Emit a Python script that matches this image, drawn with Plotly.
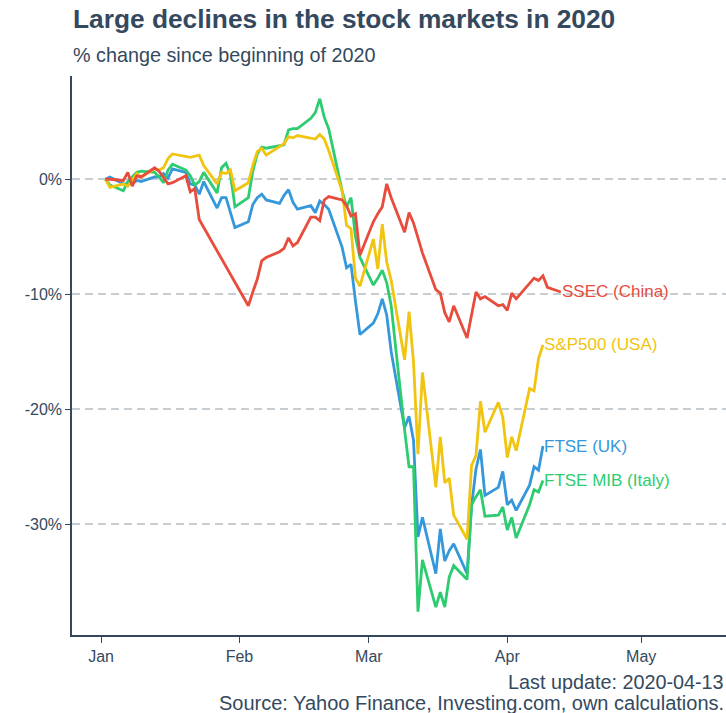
import plotly.graph_objects as go

# ---------------- data (% change since first trading day of 2020) ----------------
us_dates = ["2020-01-02","2020-01-03","2020-01-06","2020-01-07","2020-01-08","2020-01-09","2020-01-10",
            "2020-01-13","2020-01-14","2020-01-15","2020-01-16","2020-01-17","2020-01-21","2020-01-22",
            "2020-01-23","2020-01-24","2020-01-27","2020-01-28","2020-01-29","2020-01-30","2020-01-31",
            "2020-02-03","2020-02-04","2020-02-05","2020-02-06","2020-02-07","2020-02-10","2020-02-11",
            "2020-02-12","2020-02-13","2020-02-14","2020-02-18","2020-02-19","2020-02-20","2020-02-21",
            "2020-02-24","2020-02-25","2020-02-26","2020-02-27","2020-02-28",
            "2020-03-02","2020-03-03","2020-03-04","2020-03-05","2020-03-06","2020-03-09","2020-03-10",
            "2020-03-11","2020-03-12","2020-03-13","2020-03-16","2020-03-17","2020-03-18","2020-03-19",
            "2020-03-20","2020-03-23","2020-03-24","2020-03-25","2020-03-26","2020-03-27","2020-03-30",
            "2020-03-31","2020-04-01","2020-04-02","2020-04-03","2020-04-06","2020-04-07","2020-04-08",
            "2020-04-09"]
sp500 = [0, -0.7, -0.4, -0.6, -0.1, 0.5, 0.2, 0.9, 0.8, 1.0, 1.8, 2.2, 1.9, 2.0, 2.1, 1.2, -0.4, 0.6, 0.5, 0.8, -1.0,
         -0.3, 1.2, 2.4, 2.7, 2.1, 2.9, 3.1, 3.7, 3.6, 3.8, 3.5, 3.9, 3.5, 2.5, -1.0, -4.0, -4.3, -8.6, -9.3,
         -5.2, -7.8, -3.9, -7.2, -8.8, -15.7, -11.5, -15.9, -23.9, -16.8, -26.8, -22.4, -26.4, -26.0, -29.2,
         -31.3, -24.9, -24.0, -19.3, -22.0, -19.4, -20.7,
         -24.2, -22.4, -23.6, -18.2, -18.4, -15.6, -14.4]

eu_dates = ["2020-01-02","2020-01-03","2020-01-06","2020-01-07","2020-01-08","2020-01-09","2020-01-10",
            "2020-01-13","2020-01-14","2020-01-15","2020-01-16","2020-01-17","2020-01-20","2020-01-21",
            "2020-01-22","2020-01-23","2020-01-24","2020-01-27","2020-01-28","2020-01-29","2020-01-30",
            "2020-01-31",
            "2020-02-03","2020-02-04","2020-02-05","2020-02-06","2020-02-07","2020-02-10","2020-02-11",
            "2020-02-12","2020-02-13","2020-02-14","2020-02-17","2020-02-18","2020-02-19","2020-02-20",
            "2020-02-21","2020-02-24","2020-02-25","2020-02-26","2020-02-27","2020-02-28",
            "2020-03-02","2020-03-03","2020-03-04","2020-03-05","2020-03-06","2020-03-09","2020-03-10",
            "2020-03-11","2020-03-12","2020-03-13","2020-03-16","2020-03-17","2020-03-18","2020-03-19",
            "2020-03-20","2020-03-23","2020-03-24","2020-03-25","2020-03-26","2020-03-27","2020-03-30",
            "2020-03-31","2020-04-01","2020-04-02","2020-04-03","2020-04-06","2020-04-07","2020-04-08",
            "2020-04-09"]
ftse = [0, 0.2, -0.4, -0.4, -0.4, -0.1, -0.2, 0.2, 0.2, 0.5, 0.1, 0.9, 0.6, -0.4, -0.5, -1.3, -0.2, -2.5, -1.6,
        -1.6, -2.9, -4.2,
        -3.7, -2.2, -1.6, -1.3, -1.8, -2.1, -1.4, -0.9, -2.0, -2.6, -2.3, -2.9, -1.9, -2.2, -2.6, -5.9, -7.7,
        -7.4, -10.6, -13.5,
        -12.5, -11.7, -10.4, -11.8, -15.0, -21.6, -20.6, -22.7, -31.1, -29.4, -34.3, -30.4, -33.2, -32.3,
        -31.7, -34.3, -28.4, -25.2, -23.5, -27.5, -26.8, -25.4,
        -28.3, -27.9, -28.8, -26.6, -25.0, -25.3, -23.2]
ftse_mib = [0, -0.5, -1.0, -0.2, 0.2, 0.6, 0.7, 0.6, 0.2, -0.3, 0.8, 1.3, 0.8, 0.3, -0.5, -0.2, 0.6, -1.2, 1.0,
            1.4, 0.4, -2.4,
            -1.6, 0.7, 2.2, 2.8, 2.7, 2.9, 3.0, 4.3, 4.4, 4.4, 5.3, 5.8, 7.0, 5.4, 4.4, -1.0, -2.4, -1.6, -5.0,
            -6.8,
            -9.2, -8.6, -7.9, -9.0, -11.0, -21.8, -25.0, -25.0, -37.6, -33.1, -37.2, -35.9, -37.2, -34.6,
            -33.6, -34.8, -28.3, -27.6, -27.0, -29.3, -29.2, -28.5,
            -30.5, -29.4, -31.2, -28.3, -27.0, -27.2, -26.2]

cn_dates = ["2020-01-02","2020-01-03","2020-01-06","2020-01-07","2020-01-08","2020-01-09","2020-01-10",
            "2020-01-13","2020-01-14","2020-01-15","2020-01-16","2020-01-17","2020-01-20","2020-01-21",
            "2020-01-22","2020-01-23",
            "2020-02-03","2020-02-04","2020-02-05","2020-02-06","2020-02-07","2020-02-10","2020-02-11",
            "2020-02-12","2020-02-13","2020-02-14","2020-02-17","2020-02-18","2020-02-19","2020-02-20",
            "2020-02-21","2020-02-24","2020-02-25","2020-02-26","2020-02-27","2020-02-28",
            "2020-03-02","2020-03-03","2020-03-04","2020-03-05","2020-03-06","2020-03-09","2020-03-10",
            "2020-03-11","2020-03-12","2020-03-13","2020-03-16","2020-03-17","2020-03-18","2020-03-19",
            "2020-03-20","2020-03-23","2020-03-24","2020-03-25","2020-03-26","2020-03-27","2020-03-30",
            "2020-03-31","2020-04-01","2020-04-02","2020-04-03","2020-04-07","2020-04-08","2020-04-09",
            "2020-04-10","2020-04-13"]
ssec = [0, 0.0, -0.1, 0.6, -0.6, 0.3, 0.2, 1.0, 0.7, 0.2, -0.4, -0.3, 0.3, -1.1, -0.8, -3.5,
        -11.0, -9.8, -8.7, -7.1, -6.8, -6.3, -6.0, -5.1, -5.8, -5.5, -3.3, -3.3, -3.6, -1.8, -1.5, -1.8,
        -2.3, -3.2, -3.0, -6.6,
        -3.7, -3.0, -2.4, -0.4, -1.6, -4.6, -2.9, -3.8, -5.2, -6.4, -9.6, -9.9, -11.6, -12.4, -11.0,
        -13.8, -11.8, -9.8, -10.4, -10.2, -11.0, -10.9,
        -11.4, -9.9, -10.4, -8.6, -8.8, -8.4, -9.4, -9.8]

series = [
    ("FTSE (UK)", eu_dates, ftse, "#3498db"),
    ("FTSE MIB (Italy)", eu_dates, ftse_mib, "#2ecc71"),
    ("S&P500 (USA)", us_dates, sp500, "#f1c40f"),
    ("SSEC (China)", cn_dates, ssec, "#e74c3c"),
]

y_tickvals = [0, -10, -20, -30]
y_ticktext = ["0%", "-10%", "-20%", "-30%"]
x_tickvals = ["2020-01-01", "2020-02-01", "2020-03-01", "2020-04-01", "2020-05-01"]

TXT = "#34495e"
FONT = "Liberation Sans, Arial, sans-serif"

fig = go.Figure()
for name, d, v, c in series:
    fig.add_trace(go.Scatter(x=d, y=v, mode="lines", name=name,
                             line=dict(color=c, width=2.8), showlegend=False))
    fig.add_annotation(x=d[-1], y=v[-1], text=name, showarrow=False, xanchor="left",
                       yanchor="middle", xshift=-1, font=dict(color=c, size=17, family=FONT))

# plot area in pixels: x 72..726, y 76..635
def py(p):
    return (635 - p) / 559.0

def px(p):
    return (p - 72) / 654.0

fig.add_annotation(xref="paper", yref="paper", x=px(71), y=py(19), xanchor="left", yanchor="middle",
                   text="<b>Large declines in the stock markets in 2020</b>", showarrow=False,
                   font=dict(size=26.3, color=TXT, family=FONT))
fig.add_annotation(xref="paper", yref="paper", x=px(71), y=py(55), xanchor="left", yanchor="middle",
                   text="% change since beginning of 2020", showarrow=False,
                   font=dict(size=19.8, color=TXT, family=FONT))
fig.add_annotation(xref="paper", yref="paper", x=px(726), y=py(682), xanchor="right", yanchor="middle",
                   text="Last update: 2020-04-13", showarrow=False,
                   font=dict(size=19.8, color=TXT, family=FONT))
fig.add_annotation(xref="paper", yref="paper", x=px(726), y=py(703), xanchor="right", yanchor="middle",
                   text="Source: Yahoo Finance, Investing.com, own calculations.", showarrow=False,
                   font=dict(size=20, color=TXT, family=FONT))

fig.update_layout(
    width=726, height=713,
    margin=dict(l=72, r=0, t=76, b=78),
    paper_bgcolor="white", plot_bgcolor="white",
    font=dict(family=FONT, color=TXT),
    xaxis=dict(type="date", range=["2019-12-25 12:00", "2020-05-20"], tickvals=x_tickvals,
               tickformat="%b", showline=True, linecolor=TXT, linewidth=1.5, ticks="outside",
               ticklen=6, tickwidth=1.2, tickcolor=TXT, showgrid=False, zeroline=False,
               tickfont=dict(size=16, color=TXT)),
    yaxis=dict(range=[-39.63, 8.98], tickvals=y_tickvals, ticktext=y_ticktext, showline=True,
               linecolor=TXT, linewidth=1.5, ticks="outside", ticklen=5, tickwidth=1.2, tickcolor=TXT,
               showgrid=True, gridcolor="#c8cdd2", gridwidth=1.5, griddash="8px,5px", zeroline=False,
               tickfont=dict(size=16, color=TXT)),
)

fig.write_html("out.html", config={"displayModeBar": False},
               post_script="document.body.style.margin='0';document.body.style.overflow='hidden';")
